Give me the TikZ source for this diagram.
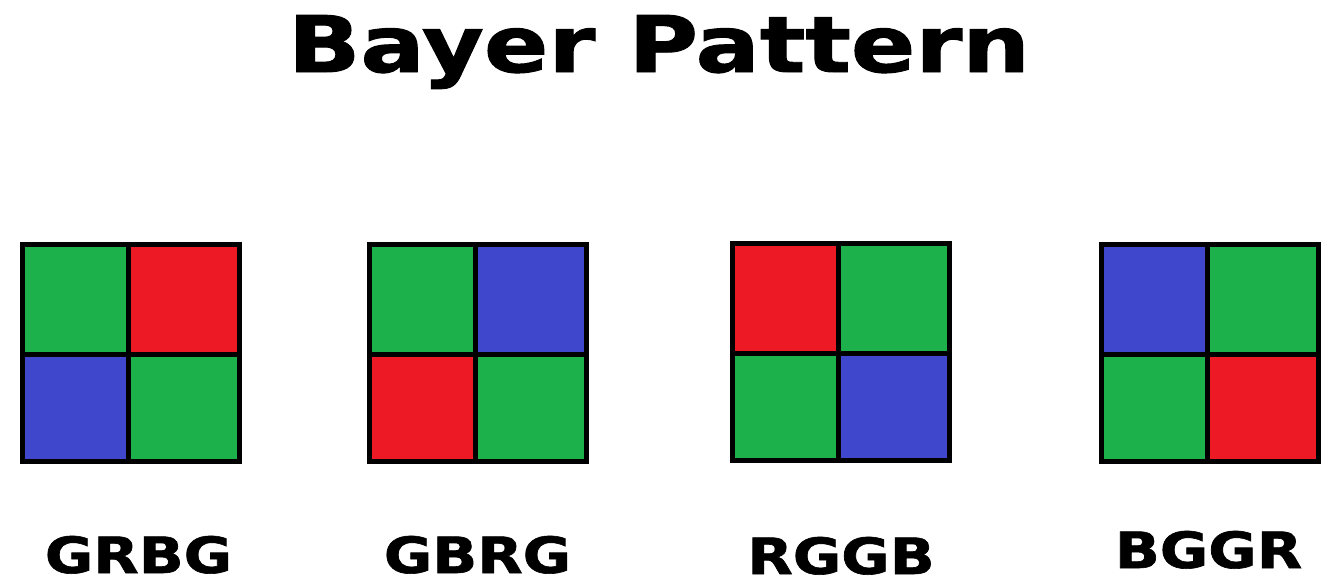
\documentclass[tikz,border=0pt]{standalone}
\usepackage{fontspec}
\setmainfont{DejaVu Sans}
\newfontfamily\heavyfont{DejaVu Sans Bold}[FakeBold=1.2]
\definecolor{bgreen}{RGB}{29,177,75}
\definecolor{bred}{RGB}{237,25,36}
\definecolor{bblue}{RGB}{63,72,204}
\tikzset{
  cell/.style={draw=black,line width=2.7pt},
  lbl/.style={inner sep=0pt,anchor=base,xscale=1.18,font=\heavyfont\fontsize{25}{29}\selectfont},
  heading/.style={inner sep=0pt,anchor=base,xscale=1.22,font=\heavyfont\fontsize{39}{44}\selectfont}
}
\begin{document}
\begin{tikzpicture}[x=0.5pt,y=0.5pt,yscale=-1,xscale=1]
\useasboundingbox (0,0) rectangle (1332,585);

% Title
\node[heading] (title) at (659,72) {Bayer Pattern};

% Pattern squares: left, top, top-left, top-right, bottom-left, bottom-right
\foreach \x/\y/\a/\b/\c/\d/\name/\lx/\ly in {
    22.5/244.5/bgreen/bred/bblue/bgreen/GRBG/138.5/573,
    369.5/244.5/bgreen/bblue/bred/bgreen/GBRG/477.5/573,
    732.5/243.5/bred/bgreen/bgreen/bblue/RGGB/841/574,
    1101.5/244.5/bblue/bgreen/bgreen/bred/BGGR/1208.5/568}{
  \fill[\a] (\x,\y) rectangle ++(106,110);
  \fill[\b] (\x+106,\y) rectangle ++(111,110);
  \fill[\c] (\x,\y+110) rectangle ++(106,107);
  \fill[\d] (\x+106,\y+110) rectangle ++(111,107);
  \draw[cell] (\x,\y) rectangle ++(217,217);
  \draw[cell] (\x+106,\y) -- ++(0,217);
  \draw[cell] (\x,\y+110) -- ++(217,0);
  % Text Node
  \node[lbl] (\name) at (\lx,\ly) {\name};
}

\end{tikzpicture}
\end{document}
